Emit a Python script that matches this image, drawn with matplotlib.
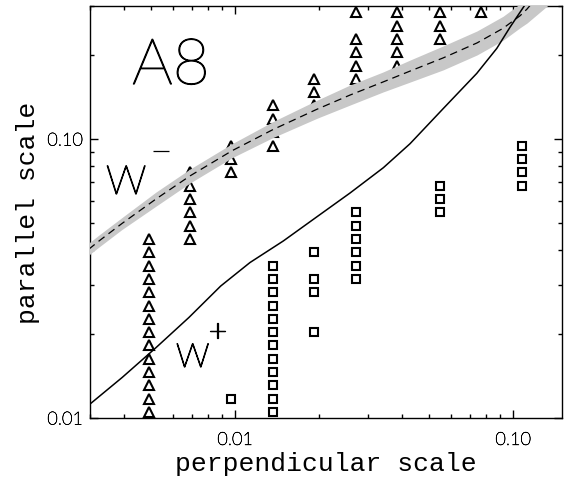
import matplotlib
matplotlib.use("Agg")
import matplotlib.pyplot as plt
import matplotlib.patheffects as pe
from matplotlib.ticker import LogLocator, FixedLocator, NullFormatter, FormatStrFormatter

# triangle columns (perpendicular scale) and their parallel scales
tri_perp = [0.0049, 0.0069, 0.0097, 0.0137, 0.0192, 0.0272, 0.0384, 0.0544, 0.0767]
tri_par = [
    [0.0105, 0.0117, 0.0131, 0.0146, 0.0163, 0.0182, 0.0203, 0.0226, 0.0253,
     0.0282, 0.0315, 0.0352, 0.0393, 0.0438],
    [0.0438, 0.0489, 0.0546, 0.0610, 0.0680, 0.0760],
    [0.0760, 0.0848, 0.0946],
    [0.0946, 0.106, 0.118, 0.132],
    [0.132, 0.147, 0.164],
    [0.164, 0.183, 0.205, 0.228, 0.285],
    [0.183, 0.205, 0.228, 0.255, 0.285],
    [0.228, 0.255, 0.285],
    [0.285],
]

# square columns
sq_perp = [0.0097, 0.0137, 0.0192, 0.0272, 0.0544, 0.108]
sq_par = [
    [0.0117],
    [0.0105, 0.0117, 0.0131, 0.0146, 0.0163, 0.0182, 0.0203, 0.0226, 0.0253,
     0.0282, 0.0315, 0.0352],
    [0.0203, 0.0282, 0.0315, 0.0393],
    [0.0315, 0.0352, 0.0393, 0.0438, 0.0489, 0.0546],
    [0.0546, 0.0610, 0.0680],
    [0.0680, 0.0760, 0.0848, 0.0946],
]

# W- curve (dashed) and its grey band
wm_perp = [0.00298, 0.00327, 0.00392, 0.00520, 0.00689, 0.00975, 0.0137, 0.0197,
           0.0259, 0.0341, 0.0426, 0.0560, 0.0742, 0.0920, 0.106, 0.1123, 0.136]
wm_par = [0.0403, 0.0434, 0.0498, 0.0610, 0.0738, 0.0908, 0.1082, 0.1279,
          0.1438, 0.1603, 0.1753, 0.1954, 0.2212, 0.2495, 0.2769, 0.2927, 0.3675]
wm_lo = [0.0384, 0.0413, 0.0474, 0.0575, 0.0696, 0.0857, 0.1013, 0.1187,
         0.1324, 0.1476, 0.1601, 0.1770, 0.2003, 0.2260, 0.2508, 0.2608, 0.3065]
wm_hi = [0.0424, 0.0456, 0.0523, 0.0646, 0.0781, 0.0962, 0.1156, 0.1378,
         0.1562, 0.1741, 0.1920, 0.2157, 0.2442, 0.2755, 0.3057, 0.3286, 0.4406]

# W+ curve (solid)
wp_perp = [0.00298, 0.00393, 0.00518, 0.00683, 0.00888, 0.01132, 0.01492, 0.01967,
           0.02593, 0.03416, 0.04261, 0.05615, 0.07403, 0.08738, 0.09755, 0.1105]
wp_par = [0.01113, 0.01398, 0.01782, 0.02294, 0.02972, 0.03609, 0.04313, 0.05259,
          0.06409, 0.07896, 0.09627, 0.1288, 0.1720, 0.2114, 0.2520, 0.3034]

thin = ["Lato", "DejaVu Sans"]
mono = ["Liberation Mono", "DejaVu Sans Mono"]
ink = [pe.withStroke(linewidth=0.9, foreground="black")]
ink_small = [pe.withStroke(linewidth=0.4, foreground="black")]

fig = plt.figure(figsize=(5.64, 4.81), dpi=100)
ax = fig.add_axes([0.1589, 0.1289, 0.8376, 0.8565])
ax.set_xscale("log")
ax.set_yscale("log")
ax.set_xlim(0.003, 0.15)
ax.set_ylim(0.01, 0.3)

for x, ys in zip(tri_perp, tri_par):
    ax.plot([x] * len(ys), ys, "^", ms=7.5, mfc="white", mec="black", mew=1.5,
            ls="none", zorder=2)
for x, ys in zip(sq_perp, sq_par):
    ax.plot([x] * len(ys), ys, "s", ms=6, mfc="white", mec="black", mew=1.5,
            ls="none", zorder=2)

ax.fill_between(wm_perp, wm_lo, wm_hi, color="#c8c8c8", lw=0, zorder=3)
ax.plot(wm_perp, wm_par, color="black", lw=0.9, ls=(0, (6, 4)), zorder=4)
ax.plot(wp_perp, wp_par, color="black", lw=1.1, zorder=4)

# labels inside the panel
ax.text(0.0898, 0.8107, "A8", transform=ax.transAxes, fontsize=46,
        family=thin, weight="light", ha="left", va="baseline", path_effects=ink)
ax.text(0.0347, 0.5437, "W", transform=ax.transAxes, fontsize=29,
        family=thin, weight="light", ha="left", va="baseline", path_effects=ink)
ax.text(0.1511, 0.619, "\u2013", transform=ax.transAxes, fontsize=30,
        family=thin, weight="light", ha="center", va="baseline", path_effects=ink)
ax.text(0.1829, 0.1238, "W", transform=ax.transAxes, fontsize=24,
        family=thin, weight="light", ha="left", va="baseline", path_effects=ink)
ax.text(0.2707, 0.2075, "+", transform=ax.transAxes, fontsize=22,
        family=thin, weight="light", ha="center", va="center", path_effects=ink)

# IDL-like axes
ax.xaxis.set_major_locator(FixedLocator([0.01, 0.1]))
ax.yaxis.set_major_locator(FixedLocator([0.01, 0.1]))
ax.xaxis.set_minor_locator(LogLocator(base=10, subs=range(2, 10)))
ax.yaxis.set_minor_locator(LogLocator(base=10, subs=range(2, 10)))
ax.xaxis.set_major_formatter(FormatStrFormatter("%.2f"))
ax.yaxis.set_major_formatter(FormatStrFormatter("%.2f"))
ax.xaxis.set_minor_formatter(NullFormatter())
ax.yaxis.set_minor_formatter(NullFormatter())
ax.tick_params(which="both", direction="in", top=True, right=True, width=1)
ax.tick_params(which="major", length=6)
ax.tick_params(which="minor", length=3)
ax.tick_params(axis="x", which="major", pad=10, labelsize=13)
ax.tick_params(axis="y", which="major", pad=5, labelsize=13)
for lab in ax.get_xticklabels() + ax.get_yticklabels():
    lab.set_family(thin)
    lab.set_weight("light")
    lab.set_path_effects(ink_small)
for sp in ax.spines.values():
    sp.set_linewidth(1)

ax.set_xlabel("perpendicular scale", family=mono, fontsize=19)
ax.set_ylabel("parallel scale", family=mono, fontsize=19)
ax.xaxis.set_label_coords(0.5, -0.08)
ax.yaxis.set_label_coords(-0.105, 0.5)

fig.savefig("out.png", dpi=100)
